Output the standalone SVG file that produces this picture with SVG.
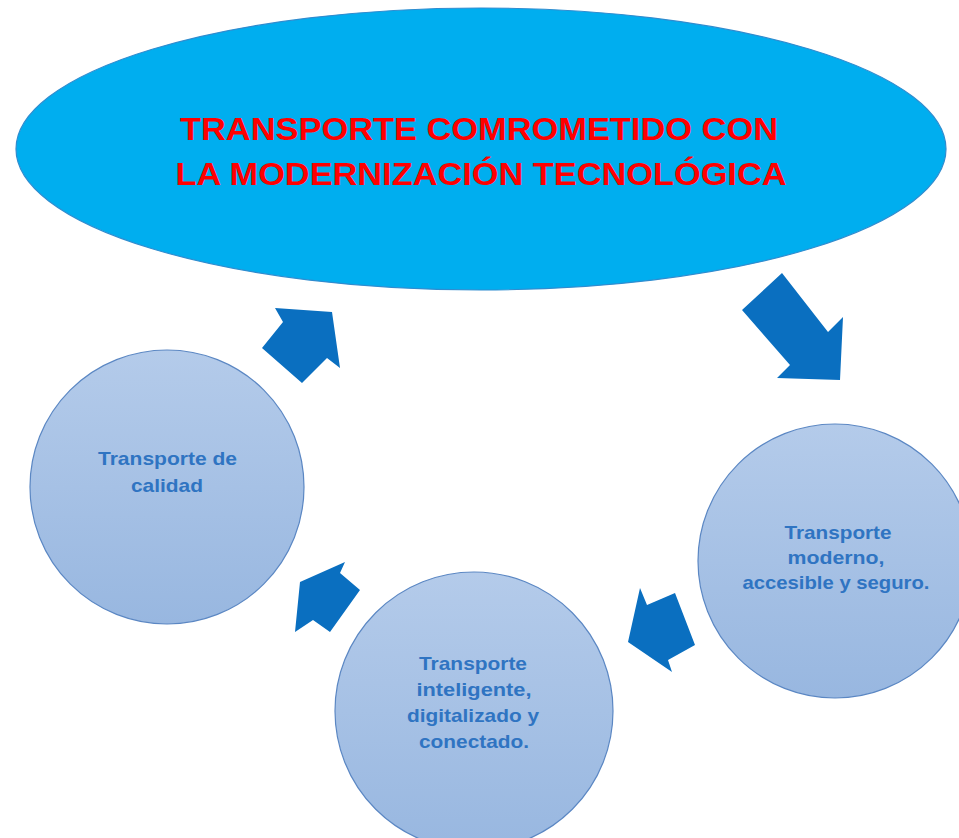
<svg xmlns="http://www.w3.org/2000/svg" width="959" height="838" viewBox="0 0 959 838">
<defs>
<linearGradient id="cg" x1="0" y1="0" x2="0" y2="1">
<stop offset="0" stop-color="#b4cbea"/>
<stop offset="1" stop-color="#98b7e0"/>
</linearGradient>
<style>
.circ{fill:url(#cg);stroke:#5b87c3;stroke-width:1.2}
.ct{font-family:"Liberation Sans",Arial,sans-serif;font-weight:bold;font-size:19px;fill:#2f74c2;text-anchor:middle}
.tt{font-family:"Liberation Sans",Arial,sans-serif;font-weight:bold;font-size:31px;fill:#ff0000;text-anchor:middle}
.arr{fill:#0a6fc0}
</style>
</defs>
<rect width="959" height="838" fill="#ffffff"/>
<g id="title">
<ellipse cx="481" cy="149" rx="465" ry="141" fill="#00aeef" stroke="#2f8ccf" stroke-width="1.2"/>
<text class="tt" x="479" y="140" textLength="598" lengthAdjust="spacingAndGlyphs">TRANSPORTE COMROMETIDO CON</text>
<text class="tt" x="481" y="185" textLength="611" lengthAdjust="spacingAndGlyphs">LA MODERNIZACIÓN TECNOLÓGICA</text>
</g>
<g id="node-calidad">
<circle class="circ" cx="167" cy="487" r="137"/>
<text class="ct" x="167.5" y="465" textLength="139" lengthAdjust="spacingAndGlyphs">Transporte de</text>
<text class="ct" x="167" y="492" textLength="72" lengthAdjust="spacingAndGlyphs">calidad</text>
</g>
<g id="node-moderno">
<circle class="circ" cx="835" cy="561" r="137"/>
<text class="ct" x="838" y="539" textLength="107" lengthAdjust="spacingAndGlyphs">Transporte</text>
<text class="ct" x="836" y="564" textLength="97" lengthAdjust="spacingAndGlyphs">moderno,</text>
<text class="ct" x="836" y="589" textLength="187" lengthAdjust="spacingAndGlyphs">accesible y seguro.</text>
</g>
<g id="node-inteligente">
<circle class="circ" cx="474" cy="711" r="139"/>
<text class="ct" x="473" y="670" textLength="108" lengthAdjust="spacingAndGlyphs">Transporte</text>
<text class="ct" x="474" y="696" textLength="115" lengthAdjust="spacingAndGlyphs">inteligente,</text>
<text class="ct" x="473" y="722" textLength="132" lengthAdjust="spacingAndGlyphs">digitalizado y</text>
<text class="ct" x="474" y="748" textLength="110" lengthAdjust="spacingAndGlyphs">conectado.</text>
</g>
<g id="connectors">
<polygon class="arr" points="782,273 828,332 843,317 840,380 777,378 790,365 742,310"/>
<polygon class="arr" points="640,588 647,605 675,593 695,645 668,660 672,672 628,642"/>
<polygon class="arr" points="300,582 345,562 340,573 360,590 330,632 313,620 295,632"/>
<polygon class="arr" points="332,312 340,368 327,358 302,383 262,348 283,322 275,308"/>
</g>
</svg>
